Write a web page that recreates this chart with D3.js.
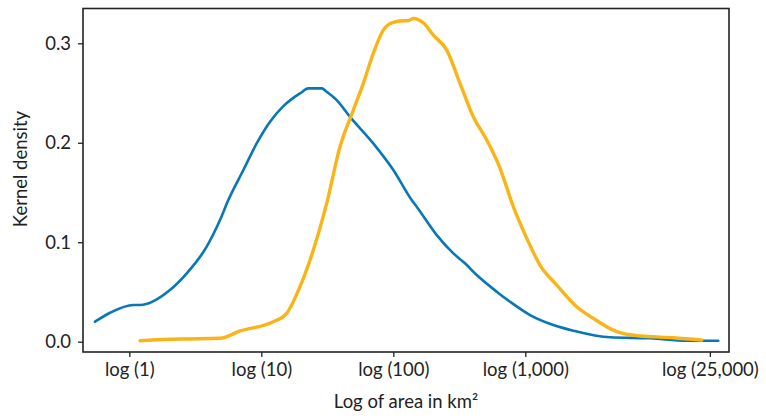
<!DOCTYPE html>
<html><head><meta charset="utf-8">
<script src="https://cdn.jsdelivr.net/npm/d3@7"></script>
<style>body{margin:0;background:#fff}text{font-family:Lato,"Open Sans",sans-serif;fill:#222}</style>
</head><body><svg id="c" width="766" height="418"></svg>
<script>
// x values are log10(area in km²)
const blueX = [-0.260,-0.146,0.030,0.081,0.308,0.435,0.586,0.687,0.750,0.864,0.965,1.066,1.167,1.230,1.293,1.356,1.458,1.495,1.571,1.672,1.848,2.000,2.139,2.177,2.329,2.455,2.543,2.632,2.783,2.884,3.036,3.212,3.364,3.642,3.945,4.223,4.462];
const blueY = [0.0201,0.0291,0.0369,0.0369,0.0520,0.0687,0.0955,0.1223,0.1424,0.1726,0.1994,0.2211,0.2369,0.2439,0.2496,0.2547,0.2547,0.2513,0.2429,0.2261,0.1994,0.1726,0.1424,0.1357,0.1072,0.0888,0.0788,0.0670,0.0503,0.0402,0.0268,0.0168,0.0111,0.0044,0.0034,0.0010,0.0010];
const orangeX = [0.081,0.384,0.687,0.839,1.091,1.192,1.293,1.394,1.495,1.596,1.697,1.773,1.848,1.924,1.988,2.076,2.111,2.152,2.227,2.303,2.405,2.505,2.606,2.708,2.808,2.909,3.011,3.111,3.238,3.389,3.515,3.692,3.869,4.121,4.336];
const orangeY = [0.0010,0.0027,0.0034,0.0108,0.0201,0.0285,0.0553,0.0922,0.1391,0.1960,0.2329,0.2597,0.2898,0.3133,0.3206,0.3226,0.3226,0.3250,0.3206,0.3082,0.2932,0.2597,0.2261,0.2027,0.1746,0.1357,0.1039,0.0771,0.0570,0.0352,0.0235,0.0101,0.0057,0.0040,0.0017];
const xTickAreas = [1,10,100,1000,25000];
const xTickLabels = ["log (1)","log (10)","log (100)","log (1,000)","log (25,000)"];
const yTicks = [0,0.1,0.2,0.3];
const yTickLabels = ["0.0","0.1","0.2","0.3"];

const svg = d3.select("#c");
const L=83,R=729,T=8.5,B=352;
const FS="18.5px";
const x = d3.scaleLinear().domain([-0.351,4.543]).range([L,R]);
const y = d3.scaleLinear().domain([0,0.3]).range([341.7,43.3]);

// axes
const xa = svg.append("g").attr("transform",`translate(0,${B})`)
  .call(d3.axisBottom(x).tickValues(xTickAreas.map(Math.log10)).tickFormat((d,i)=>xTickLabels[i]).tickSize(5).tickPadding(6));
const ya = svg.append("g").attr("transform",`translate(${L},0)`)
  .call(d3.axisLeft(y).tickValues(yTicks).tickFormat((d,i)=>yTickLabels[i]).tickSize(5).tickPadding(7));
[xa,ya].forEach(a=>{a.select(".domain").remove();a.selectAll("line").attr("stroke","#222").attr("stroke-width",1.3);
  a.selectAll("text").style("font-family","Lato,'Open Sans',sans-serif").style("font-size",FS).attr("fill","#222");});

const line = d3.line().curve(d3.curveMonotoneX);
svg.append("path").attr("d",line(blueX.map((v,i)=>[x(v),y(blueY[i])])))
  .attr("fill","none").attr("stroke","#0878b4").attr("stroke-width",2.6).attr("stroke-linejoin","round").attr("stroke-linecap","round");
svg.append("path").attr("d",line(orangeX.map((v,i)=>[x(v),y(orangeY[i])])))
  .attr("fill","none").attr("stroke","#f9b418").attr("stroke-width",3.4).attr("stroke-linejoin","round").attr("stroke-linecap","round");

svg.append("rect").attr("x",L).attr("y",T).attr("width",R-L).attr("height",B-T)
  .attr("fill","none").attr("stroke","#222").attr("stroke-width",1.6);

svg.append("text").attr("x",(L+R)/2).attr("y",408).attr("text-anchor","middle").style("font-size",FS).text("Log of area in km²");
svg.append("text").attr("transform","translate(27,169) rotate(-90)").attr("text-anchor","middle").style("font-size",FS).text("Kernel density");
</script></body></html>
